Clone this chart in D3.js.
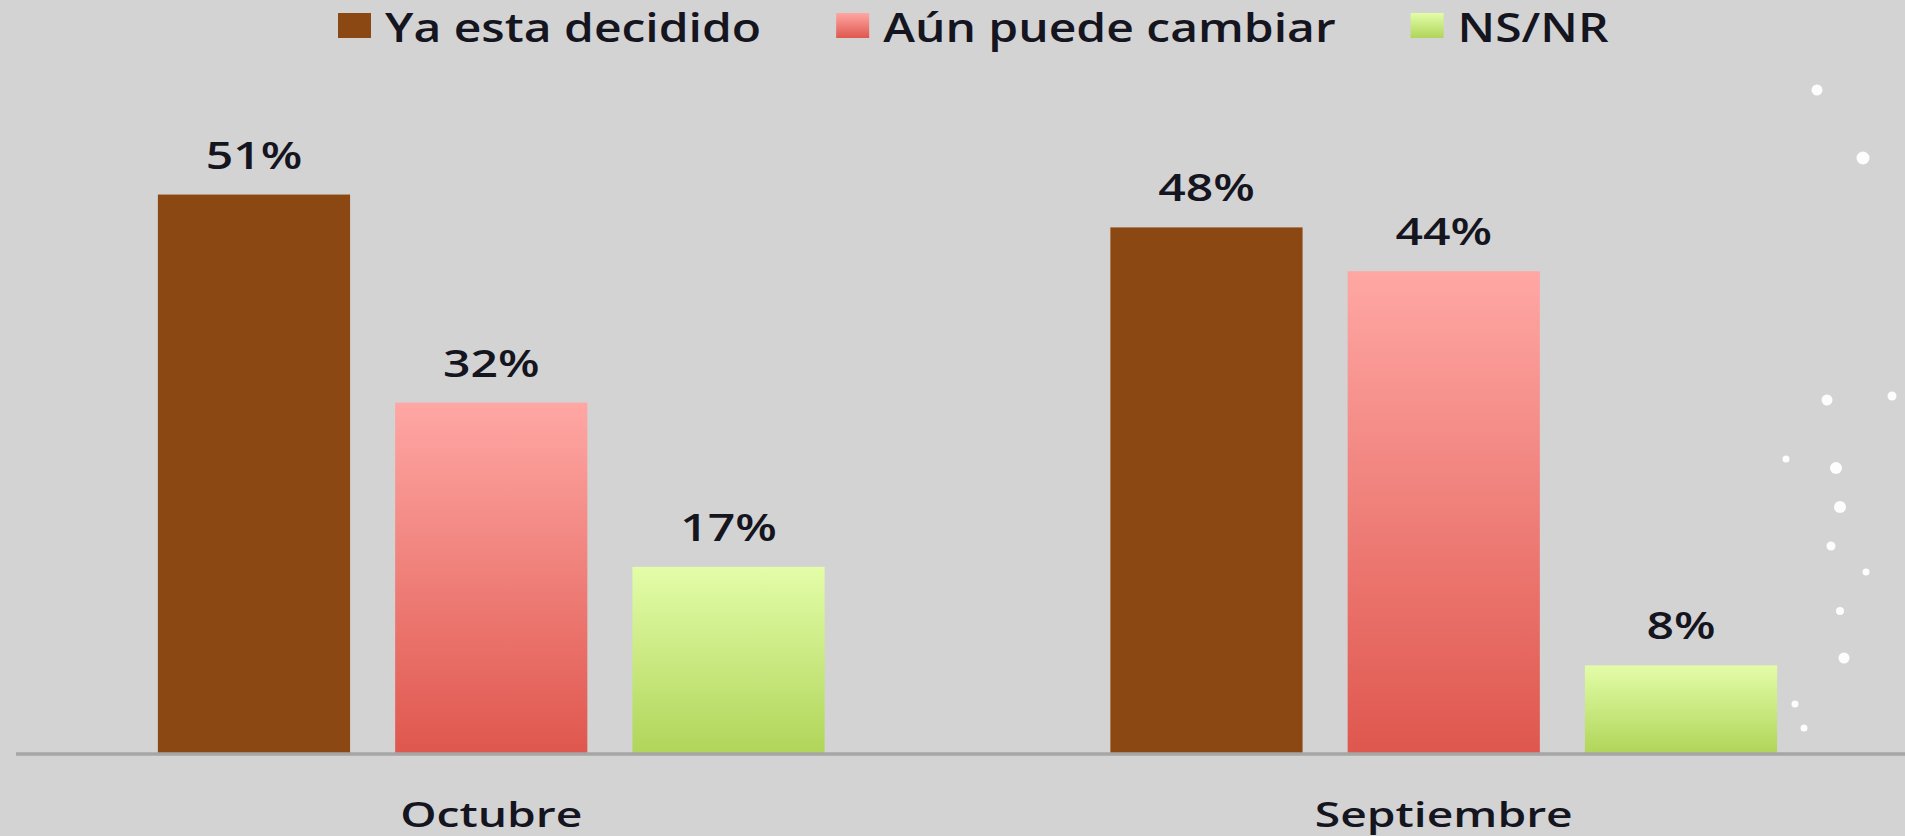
<!DOCTYPE html>
<html>
<head>
<meta charset="utf-8">
<script src="https://cdn.jsdelivr.net/npm/d3@7"></script>
<style>
  html, body { margin: 0; padding: 0; background: #d3d3d3; overflow: hidden; }
  svg { display: block; }
  text { font-family: "Open Sans", "Noto Sans", sans-serif; fill: #15151f; }
</style>
</head>
<body>
<svg id="chart" width="1905" height="836"></svg>
<script>
// ---- data ----
const categories = ["Octubre", "Septiembre"];
const seriesNames = ["Ya esta decidido", "Aún puede cambiar", "NS/NR"];
const yaEstaDecidido = [51, 48];
const aunPuedeCambiar = [32, 44];
const nsNr = [17, 8];

const seriesValues = [yaEstaDecidido, aunPuedeCambiar, nsNr];
const rows = [];
seriesNames.forEach((s, si) => {
  categories.forEach((c, ci) => {
    rows.push({ series: s, si, category: c, value: seriesValues[si][ci] });
  });
});

// ---- layout ----
const W = 1905, H = 836;
const baseY = 753;
const svg = d3.select("#chart");
svg.append("rect").attr("width", W).attr("height", H).attr("fill", "#d3d3d3");

const defs = svg.append("defs");
const grads = [
  { id: "g0", top: "#8b4813", bottom: "#8b4813" },
  { id: "g1", top: "#ffa7a4", bottom: "#df574e" },
  { id: "g2", top: "#e3fda8", bottom: "#b0d55a" }
];
grads.forEach(g => {
  const lg = defs.append("linearGradient").attr("id", g.id)
    .attr("x1", 0).attr("y1", 0).attr("x2", 0).attr("y2", 1);
  lg.append("stop").attr("offset", "0%").attr("stop-color", g.top);
  lg.append("stop").attr("offset", "100%").attr("stop-color", g.bottom);
});
const fillFor = si => `url(#g${si})`;

const x0 = d3.scaleBand().domain(categories).range([15, 1920])
  .paddingInner(0.3).paddingOuter(0.15);
const x1 = d3.scaleBand().domain(seriesNames).range([0, x0.bandwidth()])
  .paddingInner(0.19);
const y = d3.scaleLinear().domain([0, 60]).range([baseY, baseY - 657]);

// decorative dots (background ornament)
const dots = [[1817,90,5.5],[1863,158,6.5],[1827,400,5.5],[1892,396,4.5],[1786,459,3.5],
  [1836,468,6],[1840,507,6],[1831,546,4.5],[1866,572,3.5],[1840,611,4],[1844,658,5.5],
  [1795,704,3.5],[1804,728,3.5]];
svg.append("g").selectAll("circle").data(dots).join("circle")
  .attr("cx", d => d[0]).attr("cy", d => d[1]).attr("r", d => d[2])
  .attr("fill", "#ffffff").attr("opacity", 0.95);

// bars
const g = svg.append("g");
g.selectAll("rect.bar").data(rows).join("rect")
  .attr("class", "bar")
  .attr("x", d => x0(d.category) + x1(d.series))
  .attr("y", d => y(d.value))
  .attr("width", x1.bandwidth())
  .attr("height", d => y(0) - y(d.value))
  .attr("fill", d => fillFor(d.si));

// value labels
const labelSx = 1.3;
g.selectAll("text.val").data(rows).join("text")
  .attr("class", "val")
  .attr("text-anchor", "middle")
  .attr("font-size", 37)
  .attr("font-weight", 600)
  .attr("transform", d => {
    const cx = x0(d.category) + x1(d.series) + x1.bandwidth() / 2;
    return `translate(${cx},${y(d.value) - 26}) scale(${labelSx},1)`;
  })
  .text(d => d.value + "%");

// x axis
const axis = d3.axisBottom(x0).tickSize(0).tickPadding(48);
const ax = svg.append("g").attr("transform", `translate(0,${baseY + 1})`).call(axis);
ax.select(".domain").attr("stroke", "#a6a6a6").attr("stroke-width", 3.5)
  .attr("d", `M16,0H1905`);
ax.selectAll(".tick text")
  .attr("font-size", 35)
  .attr("font-weight", 600)
  .attr("fill", "#15151f")
  .attr("font-family", "Open Sans, Noto Sans, sans-serif")
  .attr("transform", "scale(1.32,1)");

// legend
const legendSx = 1.2;
const legend = svg.append("g");
let lx = 338;
seriesNames.forEach((s, si) => {
  legend.append("rect").attr("x", lx).attr("y", 13).attr("width", 33).attr("height", 25)
    .attr("fill", fillFor(si));
  const t = legend.append("text")
    .attr("font-size", 40).attr("font-weight", 600)
    .attr("transform", `translate(${lx + 47},42) scale(${legendSx},1)`)
    .text(s);
  const w = t.node().getComputedTextLength() * legendSx;
  lx = lx + 47 + w + 75;
});
</script>
</body>
</html>
